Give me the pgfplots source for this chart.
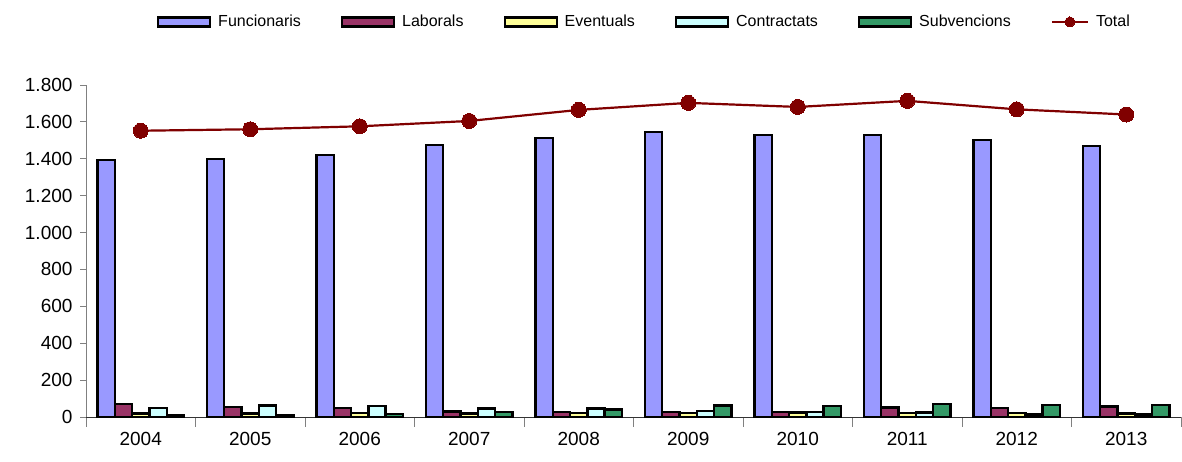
\documentclass[border=0pt]{standalone}
\usepackage{fontspec}
\setmainfont{Liberation Sans}
\usepackage{pgfplots}
\usepackage{pgfplotstable}
\pgfplotsset{compat=1.18}
\definecolor{cFun}{HTML}{9999FF}
\definecolor{cLab}{HTML}{993366}
\definecolor{cEve}{HTML}{FFFF99}
\definecolor{cCon}{HTML}{CCFFFF}
\definecolor{cSub}{HTML}{339966}
\definecolor{cTot}{HTML}{800000}
\pgfplotstableread{
x Fun Lab Eve Con Sub Tot
0 1394 70 20 50 12 1552
1 1400 55 20 62 12 1560
2 1421 49 22 58 16 1576
3 1475 30 18 46 27 1605
4 1513 28 22 47 40 1665
5 1545 28 22 33 62 1703
6 1529 27 25 27 58 1681
7 1529 52 23 24 72 1714
8 1502 50 22 14 65 1668
9 1470 57 20 14 64 1640
}\data
\pgfplotsset{
  barleg/.style={legend image code/.code={\draw[##1,/tikz/.cd,line width=2.2pt,draw=black] (0pt,-4.5pt) rectangle (52pt,4.5pt);}},
  linleg/.style={legend image code/.code={\draw[##1,mark size=5pt,mark repeat=2,mark phase=2] plot coordinates {(0pt,0pt) (18pt,0pt) (36pt,0pt)};}},
}
\begin{document}
\begin{tikzpicture}
\useasboundingbox (0,0) rectangle (1182pt,462pt);
\begin{axis}[
  at={(86pt,45pt)}, anchor=south west,
  scale only axis, width=1095pt, height=332pt,
  xmin=-0.5, xmax=9.5, ymin=0, ymax=1800,
  axis x line*=bottom, axis y line*=left,
  x axis line style={black!80, line width=0.9pt, -},
  y axis line style={gray, line width=0.9pt, -},
  xtick={0,...,9},
  xticklabels={2004,2005,2006,2007,2008,2009,2010,2011,2012,2013},
  minor xtick={-0.5,0.5,...,9.5},
  major x tick style={draw=none},
  minor x tick style={gray, line width=0.9pt},
  minor tick length=10pt,
  ytick={0,200,...,1800},
  y tick style={gray, line width=0.9pt},
  major tick length=6pt,
  tick align=outside,
  /pgf/number format/.cd, 1000 sep={.}, assume math mode=true, /pgfplots/.cd,
  tick label style={font=\fontsize{19}{21}\selectfont},
  yticklabel style={xshift=-4pt},
  xticklabel style={yshift=-6pt},
  legend style={at={(0.51,1.19)}, anchor=center, draw=none, fill=none,
    legend columns=6, font=\fontsize{16}{18}\selectfont,
    /tikz/every even column/.append style={column sep=38pt},
    /tikz/every odd column/.append style={column sep=5pt},
    legend cell align=left, inner sep=0pt},
  clip=false,
]
\addplot[ybar, bar width=17.3pt, bar shift=-34.6pt, fill=cFun, draw=black, line width=2.4pt, barleg] table[x=x,y=Fun]{\data};
\addlegendentry{Funcionaris}
\addplot[ybar, bar width=17.3pt, bar shift=-17.3pt, fill=cLab, draw=black, line width=2.4pt, barleg] table[x=x,y=Lab]{\data};
\addlegendentry{Laborals}
\addplot[ybar, bar width=17.3pt, bar shift=0pt, fill=cEve, draw=black, line width=2.4pt, barleg] table[x=x,y=Eve]{\data};
\addlegendentry{Eventuals}
\addplot[ybar, bar width=17.3pt, bar shift=17.3pt, fill=cCon, draw=black, line width=2.4pt, barleg] table[x=x,y=Con]{\data};
\addlegendentry{Contractats}
\addplot[ybar, bar width=17.3pt, bar shift=34.6pt, fill=cSub, draw=black, line width=2.4pt, barleg] table[x=x,y=Sub]{\data};
\addlegendentry{Subvencions}
\addplot[sharp plot, color=cTot, line width=2.2pt, mark=*, mark size=7.5pt, mark options={fill=cTot, draw=cTot, line width=0pt}, linleg] table[x=x,y=Tot]{\data};
\addlegendentry{Total}
\end{axis}
\end{tikzpicture}
\end{document}
